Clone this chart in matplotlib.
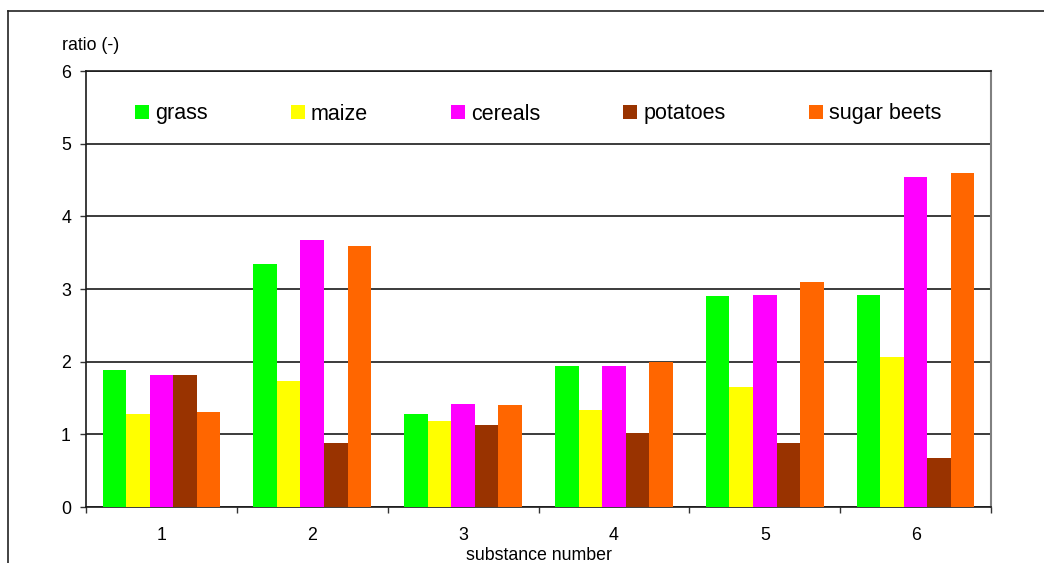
import matplotlib
matplotlib.use("Agg")
import matplotlib.pyplot as plt
from matplotlib.lines import Line2D
import numpy as np

plt.rcParams['font.family'] = ['Liberation Sans', 'DejaVu Sans']

substances = ["1", "2", "3", "4", "5", "6"]
series_names = ["grass", "maize", "cereals", "potatoes", "sugar beets"]
grass = [1.88, 3.34, 1.28, 1.94, 2.90, 2.92]
maize = [1.28, 1.73, 1.18, 1.33, 1.65, 2.07]
cereals = [1.82, 3.67, 1.42, 1.94, 2.92, 4.54]
potatoes = [1.82, 0.88, 1.13, 1.02, 0.88, 0.67]
sugar_beets = [1.31, 3.59, 1.40, 2.00, 3.10, 4.60]
colors = ["#00FF00", "#FFFF00", "#FF00FF", "#993300", "#FF6600"]

W, H = 1044, 563
fig = plt.figure(figsize=(W / 100, H / 100), dpi=100)
ax = fig.add_axes([86 / W, 1 - 507 / H, (991 - 86) / W, (507 - 71) / H])

x = np.arange(1, len(substances) + 1)
bw = 0.156
data = [grass, maize, cereals, potatoes, sugar_beets]
for i, (vals, name, c) in enumerate(zip(data, series_names, colors)):
    ax.bar(x + (i - 2) * bw, vals, width=bw, color=c, label=name, linewidth=0, zorder=3)

ax.set_xlim(0.5, 6.5)
ax.set_ylim(0, 6)
ax.set_yticks(range(0, 7))
ax.set_xticks(np.arange(0.5, 7.0, 1.0))
ax.set_xticklabels([])
ax.set_xticks(x, minor=True)
ax.set_xticklabels(substances, minor=True)
ax.tick_params(axis='x', which='minor', length=0, pad=14.5, labelsize=12.8)
ax.tick_params(axis='x', which='major', length=4, width=1, direction='out', color='#333333')
ax.tick_params(axis='y', length=4.3, width=1, direction='out', pad=6.5, labelsize=12.8, color='#333333')

ax.yaxis.grid(True, color='#1a1a1a', linewidth=1.2, zorder=0)
ax.set_axisbelow(True)
for s in ['left', 'bottom', 'top']:
    ax.spines[s].set_color('#1a1a1a')
    ax.spines[s].set_linewidth(1.2)
ax.spines['right'].set_color('#808080')
ax.spines['right'].set_linewidth(1.5)

leg = fig.legend(loc='center left', bbox_to_anchor=(135 / W, 1 - 114 / H), ncol=5,
                 frameon=False, fontsize=15.5, handlelength=0.65, handleheight=0.65,
                 handletextpad=0.28, columnspacing=3.86, borderpad=0, borderaxespad=0)

fig.text(62 / W, 1 - 46 / H, "ratio (-)", fontsize=12.8, ha='left', va='center')
fig.text(539 / W, 1 - 560 / H, "substance number", fontsize=12.8, ha='center', va='baseline')

# outer frame (top and left)
fig.add_artist(Line2D([8 / W, 1.0], [1 - 11 / H, 1 - 11 / H], transform=fig.transFigure,
                      color='#222222', linewidth=1.2))
fig.add_artist(Line2D([8 / W, 8 / W], [1 - 11 / H, 0.0], transform=fig.transFigure,
                      color='#222222', linewidth=1.2))

fig.savefig("out.png", dpi=100)
